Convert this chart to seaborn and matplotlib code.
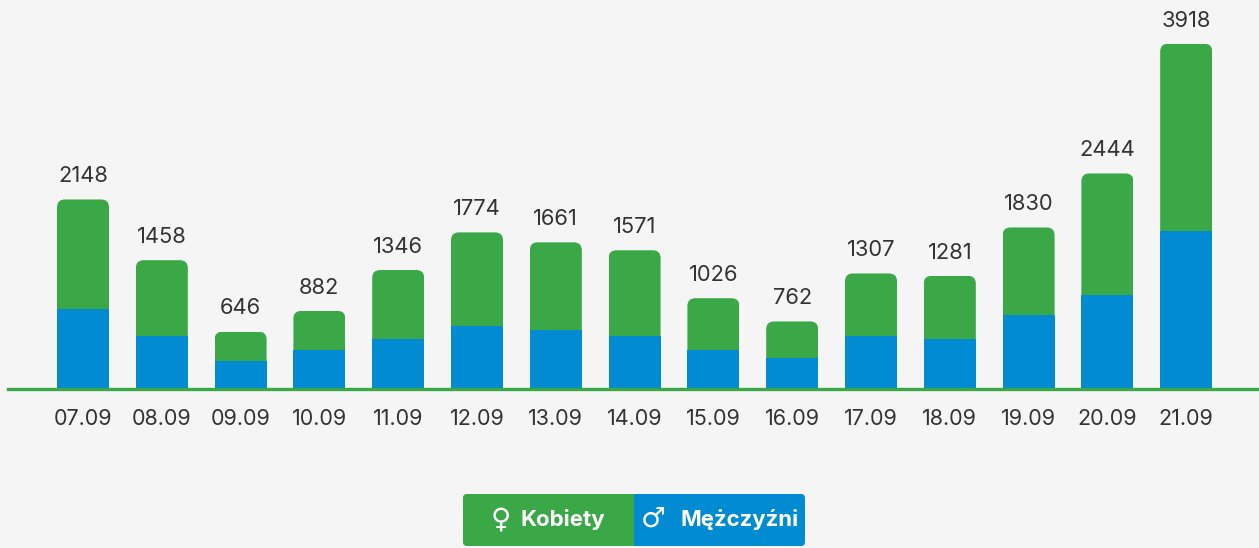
import matplotlib
matplotlib.use('Agg')
import matplotlib.pyplot as plt
from matplotlib.patches import FancyBboxPatch, Rectangle
from matplotlib.transforms import IdentityTransform
import pandas as pd
import seaborn as sns

days = ['07.09', '08.09', '09.09', '10.09', '11.09', '12.09', '13.09', '14.09',
        '15.09', '16.09', '17.09', '18.09', '19.09', '20.09', '21.09']
totals = [2148, 1458, 646, 882, 1346, 1774, 1661, 1571, 1026, 762, 1307, 1281, 1830, 2444, 3918]
men = [898, 591, 318, 432, 557, 705, 670, 591, 432, 352, 591, 557, 830, 1057, 1795]

GREEN = '#3BA847'
BLUE = '#008BD2'
BG = '#F5F5F5'
INK = '#333333'

W, H = 1259, 548
PX_PER_UNIT = 0.088
sns.set_theme(style='white')
plt.rcParams['font.family'] = ['Inter', 'DejaVu Sans']

df = pd.DataFrame({'day': days, 'total': totals, 'men': men})

fig = plt.figure(figsize=(W / 100, H / 100), dpi=100, facecolor=BG)
ax = fig.add_axes([0, 0, 1, 1], facecolor=BG)

# total behind, men in front, same as a stack
sns.barplot(data=df, x='day', y='total', color=GREEN, width=0.66, saturation=1, linewidth=0, ax=ax)
sns.barplot(data=df, x='day', y='men', color=BLUE, width=0.66, saturation=1, linewidth=0, ax=ax)

ax.set_xlim(-83 / 78.8, (W - 83) / 78.8)
ax.set_ylim(-(H - 388.5) / PX_PER_UNIT, 388.5 / PX_PER_UNIT)

# round the top corners of the green bars
green_bars = ax.containers[0]
for bar in green_bars:
    clip = FancyBboxPatch((bar.get_x(), bar.get_y()), bar.get_width(), bar.get_height(),
                          boxstyle='round,pad=0,rounding_size=0.1', mutation_aspect=78.8 / PX_PER_UNIT,
                          transform=ax.transData)
    bar.set_clip_path(clip)

ax.bar_label(green_bars, padding=9.5, fontsize=15.8, color=INK)

ax.set_xlabel('')
ax.set_ylabel('')
ax.set_yticks([])
ax.tick_params(axis='x', length=0, pad=15, labelsize=15.5, labelcolor=INK)
for s in ('top', 'left', 'right'):
    ax.spines[s].set_visible(False)
ax.spines['bottom'].set_position(('data', 0))
ax.spines['bottom'].set_color(GREEN)
ax.spines['bottom'].set_linewidth(2.4)
ax.spines['bottom'].set_bounds((8 - 83) / 78.8, (W - 83) / 78.8)
ax.spines['bottom'].set_zorder(5)


# legend button, in pixels from the top left
def px(x, y):
    return x, H - y


legend_box = FancyBboxPatch(px(463, 546), 342, 52, boxstyle='round,pad=0,rounding_size=4',
                            transform=IdentityTransform(), facecolor='none', edgecolor='none')
fig.add_artist(legend_box)
for x0, color in ((463, GREEN), (634, BLUE)):
    r = Rectangle(px(x0, 546), 171, 52, transform=IdentityTransform(), facecolor=color, edgecolor='none')
    fig.add_artist(r)
    r.set_clip_path(legend_box)

for x, label, size, weight in ((501, '♀', 20, 'normal'), (520, 'Kobiety', 16, 'bold'),
                               (653, '♂', 20, 'normal'), (680, 'Mężczyźni', 16, 'bold')):
    fig.text(x / W, 1 - 520 / H, label, color='white', fontsize=size, fontweight=weight,
             ha='center' if len(label) == 1 else 'left', va='center', family=['Inter', 'DejaVu Sans'])

fig.savefig('out.png', dpi=100, facecolor=BG)
